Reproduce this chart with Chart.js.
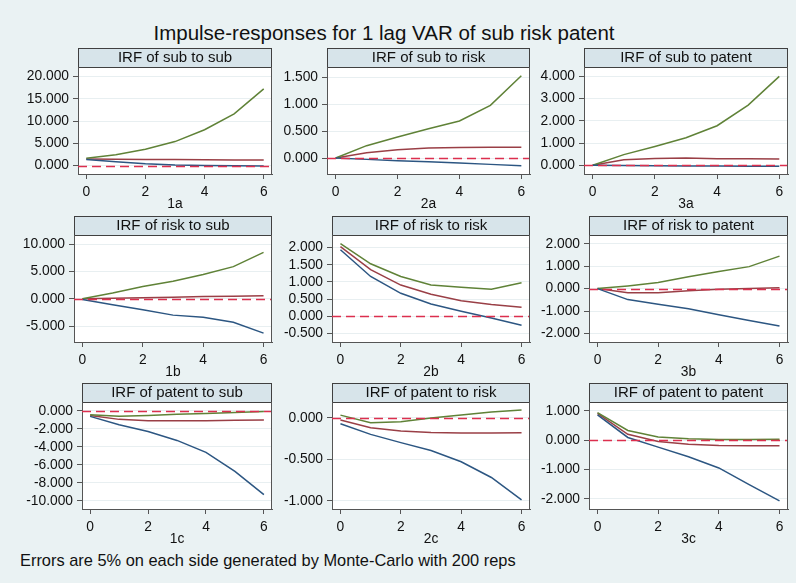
<!DOCTYPE html>
<html><head><meta charset="utf-8">
<script src="https://cdn.jsdelivr.net/npm/chart.js@4.4.1/dist/chart.umd.min.js"></script>
<style>
html,body{margin:0;padding:0;}
body{width:796px;height:583px;background:#eaf2f3;position:relative;overflow:hidden;font-family:"Liberation Sans",Arial,sans-serif;}
#title{position:absolute;left:0;width:768px;top:21px;text-align:center;font-size:20.5px;color:#111;white-space:nowrap;}
#note{position:absolute;left:20px;top:551px;font-size:16.4px;color:#111;white-space:nowrap;}
canvas{position:absolute;}
</style></head><body>
<div id="title">Impulse-responses for 1 lag VAR of sub risk patent</div>
<div id="note">Errors are 5% on each side generated by Monte-Carlo with 200 reps</div>
<script>
// ---------- data ----------
const steps = [0, 1, 2, 3, 4, 5, 6];
const xTicks = [0, 2, 4, 6];

// 1a: sub -> sub
const sub_sub_lo  = [1.40, 0.90, 0.45, 0.15, 0.02, -0.03, -0.05];
const sub_sub_irf = [1.50, 1.45, 1.40, 1.38, 1.35, 1.30, 1.25];
const sub_sub_hi  = [1.65, 2.45, 3.70, 5.40, 8.05, 11.60, 17.20];
const ticks_1a = [0, 5, 10, 15, 20];
// 2a: sub -> risk
const sub_risk_lo  = [0, -0.025, -0.05, -0.07, -0.093, -0.118, -0.142];
const sub_risk_irf = [0, 0.10, 0.155, 0.186, 0.198, 0.200, 0.200];
const sub_risk_hi  = [0, 0.23, 0.39, 0.545, 0.69, 0.98, 1.53];
const ticks_2a = [0, 0.5, 1, 1.5];
// 3a: sub -> patent
const sub_patent_lo  = [0, -0.01, -0.02, -0.03, -0.03, -0.04, -0.04];
const sub_patent_irf = [0, 0.25, 0.31, 0.33, 0.30, 0.30, 0.28];
const sub_patent_hi  = [0, 0.48, 0.85, 1.24, 1.78, 2.71, 4.00];
const ticks_3a = [0, 1, 2, 3, 4];
// 1b: risk -> sub
const risk_sub_lo  = [-0.12, -1.1, -2.0, -3.0, -3.4, -4.3, -6.3];
const risk_sub_irf = [0, 0.1, 0.2, 0.3, 0.4, 0.45, 0.55];
const risk_sub_hi  = [0, 1.04, 2.26, 3.23, 4.45, 5.9, 8.5];
const ticks_1b = [-5, 0, 5, 10];
// 2b: risk -> risk
const risk_risk_lo  = [1.94, 1.16, 0.67, 0.36, 0.145, -0.05, -0.26];
const risk_risk_irf = [2.03, 1.36, 0.91, 0.64, 0.455, 0.34, 0.26];
const risk_risk_hi  = [2.12, 1.53, 1.16, 0.91, 0.85, 0.79, 0.98];
const ticks_2b = [-0.5, 0, 0.5, 1, 1.5, 2];
// 3b: risk -> patent
const risk_patent_lo  = [0, -0.49, -0.70, -0.90, -1.17, -1.42, -1.67];
const risk_patent_irf = [0, -0.18, -0.18, -0.10, -0.03, 0.0, 0.04];
const risk_patent_hi  = [0, 0.12, 0.27, 0.53, 0.76, 0.98, 1.45];
const ticks_3b = [-2, -1, 0, 1, 2];
// 1c: patent -> sub
const patent_sub_lo  = [-0.63, -1.55, -2.3, -3.3, -4.63, -6.74, -9.33];
const patent_sub_irf = [-0.52, -0.96, -1.1, -1.1, -1.1, -1.07, -1.04];
const patent_sub_hi  = [-0.44, -0.6, -0.52, -0.4, -0.3, -0.2, -0.08];
const ticks_1c = [-10, -8, -6, -4, -2, 0];
// 2c: patent -> risk
const patent_risk_lo  = [-0.073, -0.2, -0.30, -0.395, -0.53, -0.72, -0.99];
const patent_risk_irf = [-0.028, -0.12, -0.16, -0.177, -0.185, -0.185, -0.18];
const patent_risk_hi  = [0.032, -0.06, -0.048, -0.004, 0.032, 0.069, 0.093];
const ticks_2c = [-1, -0.5, 0];
// 3c: patent -> patent
const patent_patent_lo  = [0.86, 0.09, -0.24, -0.57, -0.95, -1.52, -2.07];
const patent_patent_irf = [0.91, 0.2, -0.045, -0.14, -0.18, -0.19, -0.19];
const patent_patent_hi  = [0.94, 0.33, 0.11, 0.045, 0.02, 0.02, 0.03];
const ticks_3c = [-2, -1, 0, 1];

const titles = ["IRF of sub to sub","IRF of sub to risk","IRF of sub to patent",
                "IRF of risk to sub","IRF of risk to risk","IRF of risk to patent",
                "IRF of patent to sub","IRF of patent to risk","IRF of patent to patent"];
const subLabels = ["1a","2a","3a","1b","2b","3b","1c","2c","3c"];

// ---------- layout ----------
const FONT = '"Liberation Sans", Arial, sans-serif';
const panels = [
  {lo:sub_sub_lo, irf:sub_sub_irf, hi:sub_sub_hi, ticks:ticks_1a, min:-1.86, max:22.1, L:78, R:272, T:48},
  {lo:sub_risk_lo, irf:sub_risk_irf, hi:sub_risk_hi, ticks:ticks_2a, min:-0.297, max:1.693, L:327, R:530, T:48},
  {lo:sub_patent_lo, irf:sub_patent_irf, hi:sub_patent_hi, ticks:ticks_3a, min:-0.39, max:4.42, L:584, R:788, T:48},
  {lo:risk_sub_lo, irf:risk_sub_irf, hi:risk_sub_hi, ticks:ticks_1b, min:-7.93, max:11.7, L:74, R:272, T:216},
  {lo:risk_risk_lo, irf:risk_risk_irf, hi:risk_risk_hi, ticks:ticks_2b, min:-0.75, max:2.37, L:332, R:530, T:216},
  {lo:risk_patent_lo, irf:risk_patent_irf, hi:risk_patent_hi, ticks:ticks_3b, min:-2.38, max:2.39, L:589, R:788, T:216},
  {lo:patent_sub_lo, irf:patent_sub_irf, hi:patent_sub_hi, ticks:ticks_1c, min:-10.92, max:0.97, L:82, R:272, T:383},
  {lo:patent_risk_lo, irf:patent_risk_irf, hi:patent_risk_hi, ticks:ticks_2c, min:-1.10, max:0.19, L:332, R:530, T:383},
  {lo:patent_patent_lo, irf:patent_patent_irf, hi:patent_patent_hi, ticks:ticks_3c, min:-2.35, max:1.30, L:589, R:788, T:383}
];

const YW = 80, HEAD = 19, PLOTH = 107, XH = 40, PADR = 4;

const decor = {
  id: 'decor',
  beforeDraw(chart) {
    const {ctx, chartArea: a} = chart;
    ctx.save();
    ctx.fillStyle = '#ffffff';
    ctx.fillRect(a.left, a.top, a.right - a.left, a.bottom - a.top);
    ctx.fillStyle = '#d7e4ea';
    ctx.fillRect(a.left, a.top - HEAD, a.right - a.left, HEAD);
    ctx.strokeStyle = '#404040';
    ctx.lineWidth = 1;
    ctx.strokeRect(a.left + 0.5, a.top - HEAD + 0.5, a.right - a.left - 1, HEAD);
    ctx.restore();
  },
  afterDatasetsDraw(chart) {
    const {ctx, chartArea: a, scales} = chart;
    const y0 = Math.round(scales.y.getPixelForValue(0));
    ctx.save();
    ctx.strokeStyle = '#dc2f4e';
    ctx.lineWidth = 1.5;
    ctx.setLineDash([9, 5]);
    ctx.beginPath();
    ctx.moveTo(a.left, y0 + 0.5);
    ctx.lineTo(a.right, y0 + 0.5);
    ctx.stroke();
    ctx.setLineDash([]);
    ctx.strokeStyle = '#555';
    ctx.lineWidth = 1;
    ctx.beginPath();
    ctx.moveTo(a.right - 0.5, a.top);
    ctx.lineTo(a.right - 0.5, a.bottom);
    ctx.stroke();
    ctx.restore();
  }
};

panels.forEach((p, i) => {
  const cv = document.createElement('canvas');
  const w = (p.R - p.L) + YW + PADR;
  const h = HEAD + PLOTH + XH;
  cv.width = w; cv.height = h;
  cv.style.width = w + 'px'; cv.style.height = h + 'px';
  cv.style.left = (p.L - YW) + 'px';
  cv.style.top = p.T + 'px';
  document.body.appendChild(cv);
  const mk = (arr) => steps.map((s, k) => ({x: s, y: arr[k]}));
  const ds = (arr, color) => ({data: mk(arr), borderColor: color, borderWidth: 1.5, pointRadius: 0, fill: false, tension: 0});
  new Chart(cv, {
    type: 'line',
    data: { datasets: [ ds(p.lo, '#2c5682'), ds(p.hi, '#5f8237'), ds(p.irf, '#9a3f46') ] },
    options: {
      responsive: false, animation: false, devicePixelRatio: 1,
      layout: { padding: {left: 0, right: PADR, top: 0, bottom: 0} },
      plugins: {
        legend: {display: false},
        tooltip: {enabled: false},
        title: {display: true, text: titles[i], fullSize: false, color: '#111',
                font: {size: 15, family: FONT, weight: 'normal', lineHeight: 1.2},
                padding: {top: 1, bottom: 0}}
      },
      scales: {
        x: {
          type: 'linear', min: -0.28, max: 6.28,
          afterBuildTicks: s => { s.ticks = xTicks.map(v => ({value: v})); },
          afterFit: s => { s.height = XH; },
          ticks: {font: {size: 13.8, family: FONT}, color: '#111', padding: 5, maxRotation: 0, autoSkip: false,
                  callback: v => String(v)},
          grid: {drawOnChartArea: false, drawTicks: true, tickLength: 5, tickColor: '#555'},
          border: {display: true, color: '#555', width: 1},
          title: {display: true, text: subLabels[i], color: '#111',
                  font: {size: 13.8, family: FONT, lineHeight: 1.2}, padding: {top: 0, bottom: 2}}
        },
        y: {
          type: 'linear', min: p.min, max: p.max,
          afterBuildTicks: s => { s.ticks = p.ticks.map(v => ({value: v})); },
          afterFit: s => { s.width = YW; },
          ticks: {font: {size: 13.8, family: FONT}, color: '#111', padding: 4, autoSkip: false,
                  callback: v => Number(v).toFixed(3)},
          grid: {color: '#e8eff1', lineWidth: 1, drawTicks: true, tickLength: 5, tickColor: '#555'},
          border: {display: true, color: '#555', width: 1}
        }
      }
    },
    plugins: [decor]
  });
});
</script>
</body></html>
